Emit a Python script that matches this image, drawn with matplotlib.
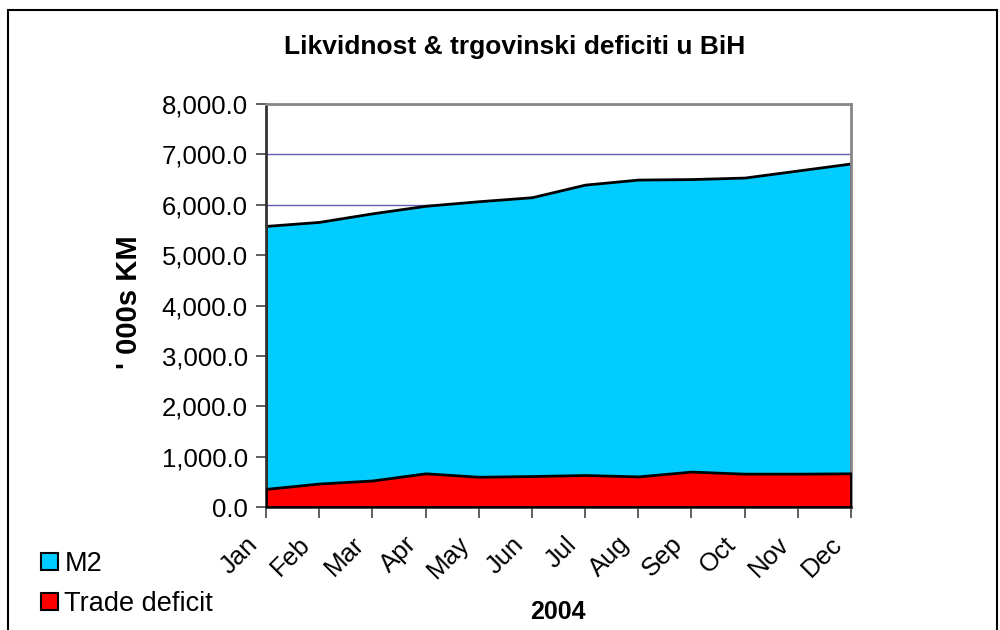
import matplotlib
matplotlib.use("Agg")
import matplotlib.pyplot as plt
import matplotlib.transforms as mtransforms
from matplotlib.patches import Patch, Rectangle
from matplotlib.ticker import FuncFormatter, MultipleLocator

months = ["Jan", "Feb", "Mar", "Apr", "May", "Jun", "Jul", "Aug", "Sep", "Oct", "Nov", "Dec"]
m2 = [5580, 5660, 5830, 5980, 6070, 6150, 6400, 6500, 6510, 6540, 6680, 6820]
trade_deficit = [360, 466, 527, 669, 601, 615, 635, 608, 703, 662, 662, 669]

plt.rcParams['font.family'] = ['Liberation Sans', 'DejaVu Sans']

fig = plt.figure(figsize=(10, 6.3), dpi=100)
ax = fig.add_axes([0.266, 0.1952, 0.585, 0.6397])

x = list(range(len(months)))
ax.fill_between(x, 0, m2, facecolor='#00CCFF', edgecolor='black', linewidth=2, zorder=2)
ax.fill_between(x, 0, trade_deficit, facecolor='#FF0000', edgecolor='black', linewidth=2, zorder=3)

ax.set_xlim(0, len(months) - 1)
ax.set_ylim(0, 8000)
ax.yaxis.set_major_locator(MultipleLocator(1000))
ax.yaxis.set_major_formatter(FuncFormatter(lambda v, p: f"{v:,.1f}"))
ax.grid(axis='y', color='#5F5FB8', linewidth=1, zorder=1)
ax.set_axisbelow(True)

ax.set_xticks(x)
ax.set_xticklabels(months, rotation=45, ha='right', va='top')
ax.tick_params(axis='x', length=8, width=1.2, color='#444444', labelsize=18.5, pad=10)
ax.tick_params(axis='y', length=7, width=1.2, color='#444444', labelsize=18.5, pad=6)
offset = mtransforms.ScaledTranslation(-4 / 100, 0, fig.dpi_scale_trans)
for lab in ax.get_xticklabels():
    lab.set_transform(lab.get_transform() + offset)

for side in ['top', 'right']:
    ax.spines[side].set_color('#888888')
    ax.spines[side].set_linewidth(2)
ax.spines['left'].set_color('#333333')
ax.spines['left'].set_linewidth(2)
ax.spines['bottom'].set_color('#333333')
ax.spines['bottom'].set_linewidth(2)

fig.text(0.515, 0.925, "Likvidnost & trgovinski deficiti u BiH", ha='center', va='center',
         fontsize=19, fontweight='bold')
fig.text(0.129, 1 - 302 / 630, "' 000s KM", ha='center', va='center', rotation=90,
         fontsize=21, fontweight='bold')
fig.text(0.558, 1 - 612 / 630, "2004", ha='center', va='center', fontsize=18, fontweight='bold')

handles = [Patch(facecolor='#00CCFF', edgecolor='black', linewidth=1.5, label='M2'),
           Patch(facecolor='#FF0000', edgecolor='black', linewidth=1.5, label='Trade deficit')]
fig.legend(handles=handles, loc='lower left', bbox_to_anchor=(0.025, -0.005), frameon=False,
           fontsize=19.5, handlelength=0.6, handleheight=0.6, handletextpad=0.25, labelspacing=0.5,
           borderaxespad=0.2)

fig.patches.append(Rectangle((0.008, -0.05), 0.989, 1 - 0.016 + 0.05, transform=fig.transFigure,
                             fill=False, edgecolor='black', linewidth=1.5))

fig.savefig("out.png", dpi=100)
